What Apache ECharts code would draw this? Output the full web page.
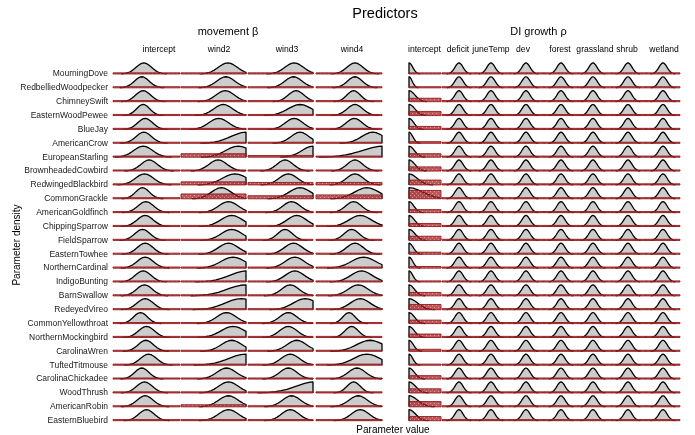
<!DOCTYPE html>
<html><head><meta charset="utf-8">
<script src="https://cdn.jsdelivr.net/npm/echarts@6/dist/echarts.min.js"></script>
<style>html,body{margin:0;padding:0;background:#fff}#c{width:695px;height:435px}</style>
</head><body><div id="c"></div>
<script>
// ---------- data ----------
const species = ['MourningDove','RedbelliedWoodpecker','ChimneySwift','EasternWoodPewee','BlueJay','AmericanCrow','EuropeanStarling','BrownheadedCowbird','RedwingedBlackbird','CommonGrackle','AmericanGoldfinch','ChippingSparrow','FieldSparrow','EasternTowhee','NorthernCardinal','IndigoBunting','BarnSwallow','RedeyedVireo','CommonYellowthroat','NorthernMockingbird','CarolinaWren','TuftedTitmouse','CarolinaChickadee','WoodThrush','AmericanRobin','EasternBluebird'];
const movementCols = ['intercept','wind2','wind3','wind4'];
const diCols = ['intercept','deficit','juneTemp','dev','forest','grassland','shrub','wetland'];

// posterior shape (relative density at -1..1 of spread, step 0.1)
const densityProfile = [0.011,0.026,0.056,0.110,0.198,0.325,0.487,0.667,0.835,0.956,1,0.956,0.835,0.667,0.487,0.325,0.198,0.110,0.056,0.026,0.011];

// movement beta: posterior mode (fraction of panel range), spread, prior band height
const mvInterceptPeak   = [0.46,0.43,0.45,0.45,0.48,0.46,0.45,0.54,0.47,0.44,0.49,0.48,0.44,0.48,0.48,0.45,0.47,0.48,0.41,0.50,0.49,0.53,0.43,0.47,0.48,0.50];
const mvInterceptSpread = [0.34,0.33,0.33,0.30,0.33,0.35,0.42,0.37,0.40,0.31,0.35,0.36,0.34,0.35,0.36,0.35,0.35,0.36,0.31,0.35,0.34,0.36,0.32,0.35,0.36,0.34];
const mvInterceptPrior  = [0.08,0.08,0.08,0.08,0.08,0.08,0.08,0.08,0.08,0.08,0.08,0.08,0.08,0.08,0.08,0.08,0.08,0.08,0.08,0.08,0.08,0.08,0.08,0.08,0.08,0.08];

const mvWind2Peak   = [0.72,0.69,0.68,0.65,0.58,1.00,0.88,0.57,0.83,0.62,0.73,0.78,0.78,0.73,0.80,1.02,1.00,0.93,0.70,0.80,0.78,1.00,0.70,0.73,0.73,0.73];
const mvWind2Spread = [0.43,0.42,0.42,0.44,0.45,0.70,0.57,0.42,0.57,0.45,0.45,0.50,0.48,0.46,0.55,0.80,0.85,0.75,0.45,0.55,0.48,0.80,0.45,0.45,0.45,0.45];
const mvWind2Prior  = [0.08,0.08,0.08,0.08,0.08,0.08,0.25,0.08,0.22,0.35,0.08,0.08,0.08,0.08,0.08,0.08,0.08,0.08,0.08,0.08,0.08,0.08,0.08,0.08,0.15,0.08];

const mvWind3Peak   = [0.71,0.70,0.74,0.80,0.71,0.80,1.00,0.57,0.62,0.80,0.67,0.75,0.57,0.70,0.72,0.72,0.65,0.88,0.62,0.62,0.75,0.65,0.62,1.05,0.67,0.65];
const mvWind3Spread = [0.42,0.40,0.36,0.55,0.40,0.42,0.50,0.38,0.42,0.50,0.40,0.44,0.34,0.42,0.44,0.44,0.40,0.55,0.40,0.40,0.45,0.42,0.40,0.90,0.42,0.40];
const mvWind3Prior  = [0.08,0.08,0.08,0.08,0.08,0.08,0.12,0.08,0.18,0.22,0.08,0.08,0.08,0.08,0.08,0.08,0.08,0.08,0.08,0.08,0.08,0.08,0.08,0.08,0.08,0.08];

const mvWind4Peak   = [0.59,0.59,0.57,0.59,0.58,0.86,1.05,0.59,0.59,0.77,0.57,0.67,0.54,0.59,0.72,0.69,0.64,0.67,0.50,0.54,0.82,0.77,0.62,0.57,0.64,0.67];
const mvWind4Spread = [0.36,0.34,0.30,0.36,0.36,0.50,1.00,0.36,0.38,0.55,0.36,0.50,0.34,0.38,0.55,0.48,0.45,0.45,0.28,0.30,0.60,0.60,0.40,0.30,0.42,0.40];
const mvWind4Prior  = [0.08,0.08,0.08,0.08,0.08,0.08,0.08,0.08,0.18,0.28,0.08,0.08,0.08,0.08,0.08,0.08,0.08,0.08,0.08,0.08,0.08,0.08,0.08,0.08,0.08,0.08];

// DI growth rho intercept: mode at lower bound, spread, prior band height
const diInterceptPeak   = [0,0,0,0,0,0,0,0,0,0,0,0,0,0,0,0,0,0,0,0,0,0,0,0,0,0];
const diInterceptSpread = [0.35,0.30,0.55,0.55,0.45,0.35,0.50,0.55,0.75,1.30,0.45,0.50,0.55,0.40,0.35,0.35,0.50,0.80,0.50,0.50,0.40,0.35,0.50,0.60,0.80,0.60];
const diInterceptPrior  = [0.08,0.08,0.25,0.30,0.22,0.12,0.25,0.30,0.35,0.60,0.22,0.22,0.30,0.15,0.12,0.08,0.25,0.38,0.25,0.25,0.15,0.08,0.25,0.30,0.38,0.30];

// DI growth rho covariates (same for every species as read): mode, spread, prior
const diCovPeak   = [0.50,0.44,0.47,0.50,0.44,0.47,0.50];
const diCovSpread = [0.36,0.36,0.36,0.36,0.36,0.36,0.36];
const diCovPrior  = 0.08;

// ---------- layout ----------
const panels = [
  {left:113, width:67, peak:mvInterceptPeak, spread:mvInterceptSpread, prior:mvInterceptPrior},
  {left:181, width:65, peak:mvWind2Peak, spread:mvWind2Spread, prior:mvWind2Prior},
  {left:248, width:65, peak:mvWind3Peak, spread:mvWind3Spread, prior:mvWind3Prior},
  {left:316, width:66, peak:mvWind4Peak, spread:mvWind4Spread, prior:mvWind4Prior},
  {left:409, width:32, peak:diInterceptPeak, spread:diInterceptSpread, prior:diInterceptPrior}
];
for (let k = 0; k < diCovPeak.length; k++) {
  panels.push({left:442 + k*34, width:34,
    peak:species.map(() => diCovPeak[k]),
    spread:species.map(() => diCovSpread[k]),
    prior:species.map(() => diCovPrior)});
}
const headerX = [159, 219, 287, 352, 424.5, 458, 491, 523, 560, 595, 627, 664];
const colNames = movementCols.concat(diCols);

const gridTop = 60.1, gridH = 360.6, nRows = species.length;

// hatch pattern for prior bands
const pc = document.createElement('canvas'); pc.width = 4; pc.height = 4;
const pg = pc.getContext('2d');
pg.fillStyle = 'rgba(165,24,28,0.72)'; pg.fillRect(0,0,4,4);
pg.fillStyle = 'rgba(255,220,220,0.45)'; pg.fillRect(0,1,1,1); pg.fillRect(2,3,1,1);
const hatch = {image: pc, repeat: 'repeat'};

const H = 0.8; // ridge height in row units

function renderCell(params, api) {
  const c = api.value(0), w = api.value(1), ph = api.value(2), base = api.value(3);
  const pts = densityProfile.map((d, i) => [c + (-1 + i*0.1) * w, d]);
  const clipped = [];
  for (let i = 0; i < pts.length; i++) {
    const p = pts[i];
    if (i > 0) {
      const q = pts[i-1];
      [0, 1].forEach(edge => {
        if ((q[0]-edge) * (p[0]-edge) < 0) {
          const f = (edge - q[0]) / (p[0] - q[0]);
          clipped.push([edge, q[1] + f * (p[1] - q[1])]);
        }
      });
    }
    if (p[0] >= 0 && p[0] <= 1) clipped.push(p);
  }
  clipped.sort((a,b) => a[0]-b[0]);
  const mx = Math.max.apply(null, clipped.map(p => p[1]));
  const curve = clipped.map(p => api.coord([p[0], base + p[1]/mx*H]));
  const b0 = api.coord([clipped[0][0], base]);
  const b1 = api.coord([clipped[clipped.length-1][0], base]);
  const line = [b0].concat(curve, [b1]);
  const tl = api.coord([0, base + ph]);
  const br = api.coord([1, base]);
  return {
    type: 'group',
    children: [
      {type:'polygon', shape:{points:line}, style:{fill:'#cccccc', stroke:null}},
      {type:'polyline', shape:{points:line}, style:{fill:null, stroke:'#000', lineWidth:1.3, lineJoin:'round'}},
      {type:'rect', shape:{x:tl[0], y:tl[1], width:br[0]-tl[0], height:br[1]-tl[1]},
        style:{fill:hatch, stroke:'#961a1c', lineWidth:0.9}}
    ]
  };
}

const grids = [], xAxes = [], yAxes = [], series = [];
panels.forEach((p, k) => {
  grids.push({left:p.left, width:p.width, top:gridTop, height:gridH});
  xAxes.push({type:'value', gridIndex:k, min:0, max:1, show:false});
  yAxes.push({type:'value', gridIndex:k, min:0, max:nRows, interval:1,
    axisLine:{show:false}, axisTick:{show:false}, splitLine:{show:false},
    axisLabel: k === 0 ? {
      show:true, margin:5, fontSize:8.5, color:'#1a1a1a', fontFamily:'Liberation Sans, Arial, sans-serif',
      padding:[0,0,9,0],
      formatter: v => (v >= 0 && v < nRows) ? species[nRows - 1 - v] : ''
    } : {show:false}
  });
  series.push({
    type:'custom', xAxisIndex:k, yAxisIndex:k, renderItem:renderCell, animation:false,
    encode:{x:0, y:3},
    data: species.map((s, i) => [p.peak[i], p.spread[i], p.prior[i], nRows - 1 - i])
  });
});

const FONT = 'Liberation Sans, Arial, Helvetica, sans-serif';
function txt(x, y, text, size, rot) {
  return {type:'text', x:x, y:y, rotation: rot || 0,
    style:{text:text, font: size + 'px ' + FONT, fill:'#000',
      textAlign:'center', textVerticalAlign:'middle', align:'center', verticalAlign:'middle'}};
}
const graphics = [
  txt(385, 14, 'Predictors', 14.5),
  txt(228, 32, 'movement β', 11),
  txt(538.5, 32, 'DI growth ρ', 11),
  txt(393, 430, 'Parameter value', 10),
  txt(17, 245, 'Parameter density', 10, Math.PI/2)
];
colNames.forEach((n, k) => graphics.push(txt(headerX[k], 50, n, 8.6)));

const chart = echarts.init(document.getElementById('c'), null, {renderer:'canvas'});
chart.setOption({
  animation:false,
  backgroundColor:'#fff',
  grid: grids, xAxis: xAxes, yAxis: yAxes, series: series,
  graphic: graphics
});
</script></body></html>
